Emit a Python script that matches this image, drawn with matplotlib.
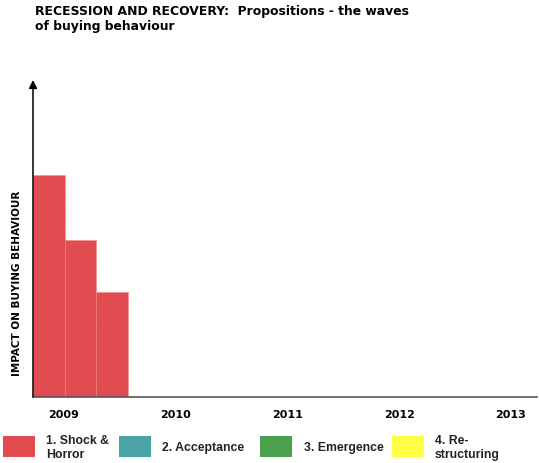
import matplotlib
matplotlib.use("Agg")
import matplotlib.pyplot as plt
from matplotlib.patches import Rectangle

# Phases of buying behaviour and their colours
phases = ["1. Shock &\nHorror", "2. Acceptance", "3. Emergence", "4. Re-\nstructuring"]
phase_colors = ["#E04C4F", "#4BA3A5", "#4AA04B", "#FFFF44"]

# Shock & Horror impact over successive periods of 2009 (x in years)
bar_starts = [2008.7226, 2009.006, 2009.289]
bar_width = 0.2834
impact = [70, 49.5, 33]

years = [2009, 2010, 2011, 2012, 2013]

W, H = 539, 463
fig = plt.figure(figsize=(W / 100, H / 100), dpi=100)
ax = fig.add_axes([33 / W, 1 - 397 / H, 1 - 35 / W, (397 - 80) / H])

ax.bar(bar_starts, impact, width=bar_width, align="edge",
       color=phase_colors[0], edgecolor="#F08080", linewidth=0.6,
       linestyle=":", zorder=2)

px_per_year = 111.75
ax.set_xlim(bar_starts[0], bar_starts[0] + (539 - 35) / px_per_year)
ax.set_ylim(0, 100)

for s in ["top", "right", "left"]:
    ax.spines[s].set_visible(False)
ax.spines["bottom"].set_color("#555555")
ax.spines["bottom"].set_linewidth(1.2)

ax.set_xticks(years)
ax.set_xticklabels([str(y) for y in years], fontsize=8, fontweight="bold",
                   family="DejaVu Sans")
ax.tick_params(axis="x", length=0, pad=9)
ax.set_yticks([])

# Vertical axis with arrow head
ax.annotate("", xy=(0, 1.0), xytext=(0, 0), xycoords="axes fraction",
            arrowprops=dict(arrowstyle="-|>", color="black", lw=1.1,
                            mutation_scale=12, shrinkA=0, shrinkB=0))

fig.text(17 / W, 1 - 283 / H, "IMPACT ON BUYING BEHAVIOUR", rotation=90,
         ha="center", va="center", fontsize=7.5, fontweight="bold",
         family="DejaVu Sans")

fig.text(35 / W, 1 - 5 / H,
         "RECESSION AND RECOVERY:  Propositions - the waves\nof buying behaviour",
         ha="left", va="top", fontsize=8.9, fontweight="bold",
         family="DejaVu Sans", linespacing=1.2)

# Legend drawn in figure pixels
sw_x = [3, 119, 260, 392]
txt_x = [46, 162, 304, 435]
for x0, tx, lab, col in zip(sw_x, txt_x, phases, phase_colors):
    fig.patches.append(Rectangle((x0 / W, 1 - 457 / H), 32 / W, 21 / H,
                                 transform=fig.transFigure, facecolor=col,
                                 edgecolor="none"))
    fig.text(tx / W, 1 - 448 / H, lab, ha="left", va="center", fontsize=8.8,
             fontweight="bold", family="Liberation Sans", color="#222222",
             linespacing=1.2)

fig.savefig("out.png", dpi=100, facecolor="white")
